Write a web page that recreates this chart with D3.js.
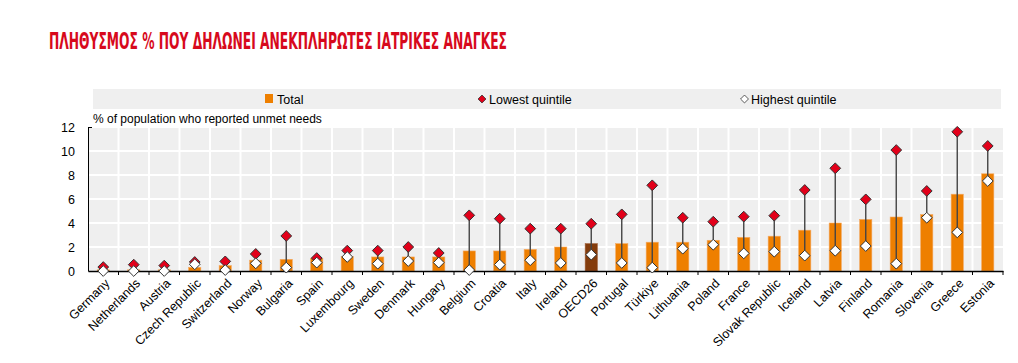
<!DOCTYPE html>
<html>
<head>
<meta charset="utf-8">
<script src="https://cdn.jsdelivr.net/npm/d3@7"></script>
<style>
  body { margin: 0; background: #fff; }
  svg text { font-family: "Liberation Sans", Arial, sans-serif; }
</style>
</head>
<body>
<svg id="chart" width="1018" height="363"></svg>
<script>
// categories and values
var countries = ["Germany", "Netherlands", "Austria", "Czech Republic", "Switzerland", "Norway", "Bulgaria",
  "Spain", "Luxembourg", "Sweden", "Denmark", "Hungary", "Belgium", "Croatia", "Italy", "Ireland", "OECD26",
  "Portugal", "Türkiye", "Lithuania", "Poland", "France", "Slovak Republic", "Iceland", "Latvia", "Finland",
  "Romania", "Slovenia", "Greece", "Estonia"];
var total = [0.1, 0.1, 0.1, 0.3, 0.45, 0.9, 0.97, 1.06, 1.2, 1.17, 1.17, 1.17, 1.67, 1.67, 1.8, 2.0, 2.28,
  2.28, 2.4, 2.4, 2.56, 2.8, 2.9, 3.4, 4.0, 4.3, 4.5, 4.7, 6.4, 8.1];
var lowest = [0.33, 0.53, 0.45, 0.75, 0.8, 1.42, 2.92, 1.08, 1.7, 1.7, 2.0, 1.5, 4.64, 4.36, 3.53, 3.53, 3.94,
  4.72, 7.14, 4.44, 4.11, 4.53, 4.61, 6.75, 8.56, 5.97, 10.08, 6.67, 11.6, 10.42];
var highest = [0.0, 0.0, 0.0, 0.56, 0.08, 0.64, 0.28, 0.7, 1.17, 0.61, 0.83, 0.7, 0.08, 0.53, 0.9, 0.67, 1.36,
  0.67, 0.28, 1.86, 2.19, 1.47, 1.61, 1.28, 1.69, 2.08, 0.61, 4.44, 3.22, 7.5];
var yTicks = [0, 2, 4, 6, 8, 10, 12];

var titleText = "ΠΛΗΘΥΣΜΟΣ % ΠΟΥ ΔΗΛΩΝΕΙ ΑΝΕΚΠΛΗΡΩΤΕΣ ΙΑΤΡΙΚΕΣ ΑΝΑΓΚΕΣ";
var yTitle = "% of population who reported unmet needs";

var svg = d3.select("#chart");
var margin = { top: 127, left: 88, right: 15, bottom: 92 };
var width = 1018 - margin.left - margin.right,
  height = 363 - margin.top - margin.bottom;

// title
svg.append("text")
  .attr("x", 49).attr("y", 49)
  .attr("textLength", 458)
  .attr("lengthAdjust", "spacingAndGlyphs")
  .attr("font-size", 23)
  .style("font-family", "'DejaVu Sans Condensed', 'DejaVu Sans', sans-serif")
  .style("font-weight", "bold")
  .style("font-size", "23px")
  .style("fill", "#d7091c")
  .text(titleText);

// legend
var leg = svg.append("g");
leg.append("rect").attr("x", 93).attr("y", 89).attr("width", 908).attr("height", 20).attr("fill", "#efefef");
leg.append("rect").attr("x", 265).attr("y", 94).attr("width", 8).attr("height", 9).attr("fill", "#ee7f00");
leg.append("text").attr("x", 277).attr("y", 103.5).style("font-size", "12.5px").text("Total");
leg.append("path").attr("d", d3.symbol(d3.symbolDiamond2, 40)())
  .attr("transform", "translate(482,99)").attr("fill", "#e2001a").attr("stroke", "#333").attr("stroke-width", 0.8);
leg.append("text").attr("x", 489).attr("y", 103.5).style("font-size", "12.5px").text("Lowest quintile");
leg.append("path").attr("d", d3.symbol(d3.symbolDiamond2, 40)())
  .attr("transform", "translate(744.5,99)").attr("fill", "#fff").attr("stroke", "#333").attr("stroke-width", 0.8);
leg.append("text").attr("x", 751).attr("y", 103.5).style("font-size", "12.5px").text("Highest quintile");

var g = svg.append("g").attr("transform", "translate(" + margin.left + "," + margin.top + ")");

var x = d3.scaleBand().domain(countries).range([0, width]);
var y = d3.scaleLinear().domain([0, 12]).range([height, 0]);

// plot background and grid
g.append("rect").attr("width", width).attr("height", height).attr("fill", "#efefef");
g.selectAll(".hgrid").data(yTicks.slice(1)).enter().append("line")
  .attr("x1", 0).attr("x2", width)
  .attr("y1", function (d) { return y(d) }).attr("y2", function (d) { return y(d) })
  .attr("stroke", "#fff").attr("stroke-width", 2);
g.selectAll(".vgrid").data(countries.slice(1)).enter().append("line")
  .attr("x1", function (d) { return x(d) }).attr("x2", function (d) { return x(d) })
  .attr("y1", 0).attr("y2", height)
  .attr("stroke", "#fff").attr("stroke-width", 2);

// y axis title
g.append("text").attr("x", 5).attr("y", -4).style("font-size", "12px").text(yTitle);

// bars
g.selectAll(".bar").data(countries).enter().append("rect")
  .attr("x", function (d) { return x(d) + x.bandwidth() * 0.3 })
  .attr("width", x.bandwidth() * 0.4)
  .attr("y", function (d, i) { return y(total[i]) })
  .attr("height", function (d, i) { return height - y(total[i]) })
  .attr("fill", function (d) { return d == "OECD26" ? "#843c0c" : "#ee7f00" })
  .attr("stroke", function (d) { return d == "OECD26" ? "#a0603a" : "#f4a860" })
  .attr("stroke-width", 0.6);

// connector lines
g.selectAll(".rng").data(countries).enter().append("line")
  .attr("x1", function (d) { return x(d) + x.bandwidth() / 2 })
  .attr("x2", function (d) { return x(d) + x.bandwidth() / 2 })
  .attr("y1", function (d, i) { return y(lowest[i]) })
  .attr("y2", function (d, i) { return y(highest[i]) })
  .attr("stroke", "#444").attr("stroke-width", 1.4);

// axes
var xAxis = g.append("g").attr("transform", "translate(0," + height + ")")
  .call(d3.axisBottom(x).tickSize(0).tickFormat(""));
xAxis.select(".domain").attr("stroke", "#000").attr("stroke-width", 1.5);
g.append("g").attr("transform", "translate(0," + height + ")")
  .selectAll("line").data(countries.slice(1).concat([null])).enter().append("line")
  .attr("x1", function (d) { return d ? x(d) : width }).attr("x2", function (d) { return d ? x(d) : width })
  .attr("y1", 0).attr("y2", 4).attr("stroke", "#000").attr("stroke-width", 1);

var yAxis = g.append("g")
  .call(d3.axisLeft(y).tickValues(yTicks).tickSize(0).tickPadding(13));
yAxis.select(".domain").attr("stroke", "#000");
yAxis.selectAll("text").style("font-size", "12.5px").style("font-family", "'Liberation Sans', Arial, sans-serif").attr("fill", "#000");
g.append("line").attr("x1", 0).attr("x2", 4).attr("y1", 0.5).attr("y2", 0.5).attr("stroke", "#000");

// diamonds
function diamonds(vals, fill) {
  g.selectAll(null).data(countries).enter().append("path")
    .attr("d", d3.symbol(d3.symbolDiamond2, 74)())
    .attr("transform", function (d, i) { return "translate(" + (x(d) + x.bandwidth() / 2) + "," + y(vals[i]) + ")" })
    .attr("fill", fill).attr("stroke", "#333").attr("stroke-width", 1);
}
diamonds(lowest, "#e2001a");
diamonds(highest, "#fff");

// x labels
g.append("g").selectAll("text").data(countries).enter().append("text")
  .attr("transform", function (d) { return "translate(" + (x(d) + x.bandwidth() / 2 + 4) + "," + (height + 10) + ") rotate(-45)" })
  .attr("text-anchor", "end")
  .attr("dy", "0.35em")
  .style("font-size", "12.5px")
  .text(function (d) { return d });
</script>
</body>
</html>
